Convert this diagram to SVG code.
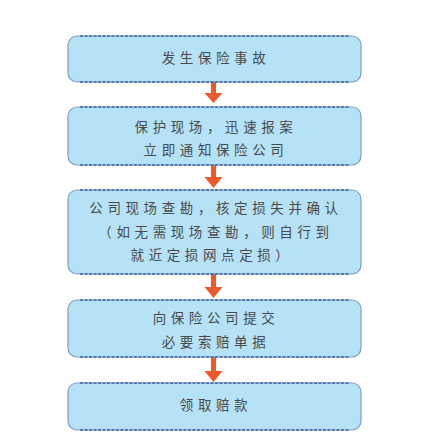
<svg xmlns="http://www.w3.org/2000/svg" width="425" height="444" viewBox="0 0 425 444">
<defs>
<style>
.box{fill:#b5e2f7;stroke:#7f9fc4;stroke-width:1.2}
.edge{stroke:#3d5fa8;stroke-width:1.5;stroke-dasharray:3 1.5;fill:none}
.t{font-family:"Noto Sans CJK SC","Noto Sans",sans-serif;font-size:13.5px;fill:#4a4a4a;text-anchor:middle;letter-spacing:4.6px}
.shaft{fill:#ec5a2b}
</style>
</defs>
<rect width="425" height="444" fill="#ffffff"/>
<g id="connectors">
<path class="shaft" d="M211,82 h5 v11 h6.5 l-9,10 l-9,-10 h6.5 z"/>
<path class="shaft" d="M211,165 h5 v12 h6.5 l-9,11 l-9,-11 h6.5 z"/>
<path class="shaft" d="M211,274 h5 v13 h6.5 l-9,11 l-9,-11 h6.5 z"/>
<path class="shaft" d="M211,357 h5 v14 h6.5 l-9,11 l-9,-11 h6.5 z"/>
</g>
<g id="n1">
<rect class="box" x="68" y="36" width="293" height="46" rx="9"/>
<path class="edge" d="M80,36 H350 M80,82 H350"/>
<text class="t" x="216" y="63">发生保险事故</text>
</g>
<g id="n2">
<rect class="box" x="68" y="107" width="293" height="58" rx="9"/>
<path class="edge" d="M80,107 H350 M80,165 H350"/>
<text class="t" x="216" y="132">保护现场，迅速报案</text>
<text class="t" x="216" y="155">立即通知保险公司</text>
</g>
<g id="n3">
<rect class="box" x="68" y="190" width="293" height="84" rx="9"/>
<path class="edge" d="M80,190 H350 M80,274 H350"/>
<text class="t" x="216" y="213">公司现场查勘，核定损失并确认</text>
<text class="t" x="216" y="237">（如无需现场查勘，则自行到</text>
<text class="t" x="212" y="260">就近定损网点定损）</text>
</g>
<g id="n4">
<rect class="box" x="68" y="300" width="293" height="57" rx="9"/>
<path class="edge" d="M80,300 H350 M80,357 H350"/>
<text class="t" x="216" y="323">向保险公司提交</text>
<text class="t" x="216" y="347">必要索赔单据</text>
</g>
<g id="n5">
<rect class="box" x="68" y="383" width="293" height="47" rx="9"/>
<path class="edge" d="M80,383 H350 M80,430 H350"/>
<text class="t" x="216" y="410">领取赔款</text>
</g>
</svg>
